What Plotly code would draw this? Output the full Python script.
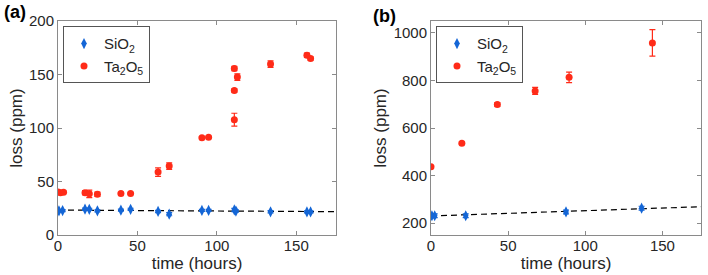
import plotly.graph_objects as go
from plotly.subplots import make_subplots

# ---- Panel (a) data ----
a_sio2_t = [0.6, 2.9, 17, 19.7, 24.8, 39.6, 45.7, 63, 70, 90.6, 94.8, 111, 112, 133.8, 156.7, 159]
a_sio2_loss = [22.6, 22.8, 24.1, 24.0, 22.6, 23.2, 24.0, 22.0, 19.5, 23.0, 23.0, 23.4, 22.4, 21.7, 21.6, 21.6]
a_sio2_err = [1, 1, 1, 1, 1, 1, 1, 1, 1.5, 1, 1, 1.5, 1, 1, 1, 1]

a_ta_t = [0, 1.5, 3.5, 17, 19.7, 24.8, 39.6, 45.7, 63, 70, 90.6, 94.8, 111, 111, 111, 112.9, 133.8, 156.7, 159]
a_ta_loss = [40.2, 39.5, 40.0, 39.6, 38.5, 38.0, 38.7, 38.7, 58.8, 64.4, 91.0, 91.3, 107.8, 135.0, 155.5, 147.6, 159.7, 168.0, 165.0]
a_ta_err = [1.5, 1, 1, 2, 3.5, 2, 0.8, 0.8, 4, 3, 0.8, 0.8, 6, 1.5, 2, 3, 3, 2, 1.5]

a_fit_t = [0, 175]
a_fit_loss = [23.3, 21.8]

# ---- Panel (b) data ----
b_sio2_t = [0.6, 2.4, 22.5, 87.5, 136.5]
b_sio2_loss = [231, 231, 231, 247, 263]
b_sio2_err = [8, 8, 8, 8, 8]

b_ta_t = [0, 20, 43, 67.5, 89.5, 143.5]
b_ta_loss = [437, 536, 699, 756, 813, 958]
b_ta_err = [5, 5, 8, 15, 22, 56]

b_fit_t = [0, 175]
b_fit_loss = [230, 269]

BLUE = "#1466d6"
RED = "#ff2b18"
AXC = "#8a8a8a"
TXT = "#262626"
FONT = "Liberation Sans, Arial, Helvetica, sans-serif"

fig = make_subplots(rows=1, cols=2)

def add_panel(col, st, sl, se, tt, tl, te, ft, fl, legend):
    fig.add_trace(go.Scatter(x=ft, y=fl, mode="lines",
                             line=dict(color="black", width=1.2, dash="6px,4px"),
                             showlegend=False, hoverinfo="skip"), row=1, col=col)
    fig.add_trace(go.Scatter(x=st, y=sl, mode="markers", name="SiO<sub>2</sub>",
                             marker=dict(symbol="diamond-tall", size=8, color=BLUE),
                             error_y=dict(type="data", array=se, color=BLUE, thickness=1.2, width=3),
                             legend=legend), row=1, col=col)
    fig.add_trace(go.Scatter(x=tt, y=tl, mode="markers", name="Ta<sub>2</sub>O<sub>5</sub>",
                             marker=dict(symbol="circle", size=7, color=RED),
                             error_y=dict(type="data", array=te, color=RED, thickness=1.2, width=3),
                             legend=legend), row=1, col=col)

add_panel(1, a_sio2_t, a_sio2_loss, a_sio2_err, a_ta_t, a_ta_loss, a_ta_err, a_fit_t, a_fit_loss, "legend")
add_panel(2, b_sio2_t, b_sio2_loss, b_sio2_err, b_ta_t, b_ta_loss, b_ta_err, b_fit_t, b_fit_loss, "legend2")

axis_common = dict(showline=True, linecolor=AXC, linewidth=1, mirror="ticks",
                   ticks="inside", ticklen=4, tickcolor=AXC, showgrid=False, zeroline=False,
                   automargin=False,
                   tickfont=dict(family=FONT, size=15, color=TXT),
                   title_font=dict(family=FONT, size=17, color=TXT))

fig.update_xaxes(**axis_common, range=[0, 175], tickvals=[0, 50, 100, 150],
                 title_text="time (hours)", title_standoff=0, ticklabelstandoff=-3)
fig.update_yaxes(**axis_common, title_text="loss (ppm)", title_standoff=2, ticklabelstandoff=0)
fig.update_yaxes(range=[0, 200], tickvals=[0, 50, 100, 150, 200], row=1, col=1)
fig.update_yaxes(range=[150, 1050], tickvals=[200, 400, 600, 800, 1000], row=1, col=2)

fig.update_layout(
    width=708, height=275,
    margin=dict(l=0, r=0, t=21, b=40),
    plot_bgcolor="white", paper_bgcolor="white",
    xaxis=dict(domain=[58/708, 336/708]),
    xaxis2=dict(domain=[431/708, 701/708]),
    legend=dict(x=63/708, y=0.975, xanchor="left", yanchor="top",
                bordercolor="#555", borderwidth=1, bgcolor="white",
                font=dict(family=FONT, size=15, color=TXT), itemwidth=30),
    legend2=dict(x=436/708, y=0.975, xanchor="left", yanchor="top",
                 bordercolor="#555", borderwidth=1, bgcolor="white",
                 font=dict(family=FONT, size=15, color=TXT), itemwidth=30),
    annotations=[
        dict(text="<b>(a)</b>", x=2/708, y=1.0 + 9/214, xref="paper", yref="paper",
             xanchor="left", yanchor="middle", showarrow=False,
             font=dict(family=FONT, size=18, color="black")),
        dict(text="<b>(b)</b>", x=371/708, y=1.0 + 5/214, xref="paper", yref="paper",
             xanchor="left", yanchor="middle", showarrow=False,
             font=dict(family=FONT, size=18, color="black")),
    ],
)

fig.write_html("out.html", config={"displayModeBar": False},
               post_script="document.body.style.margin='0';document.body.style.overflow='hidden';")
